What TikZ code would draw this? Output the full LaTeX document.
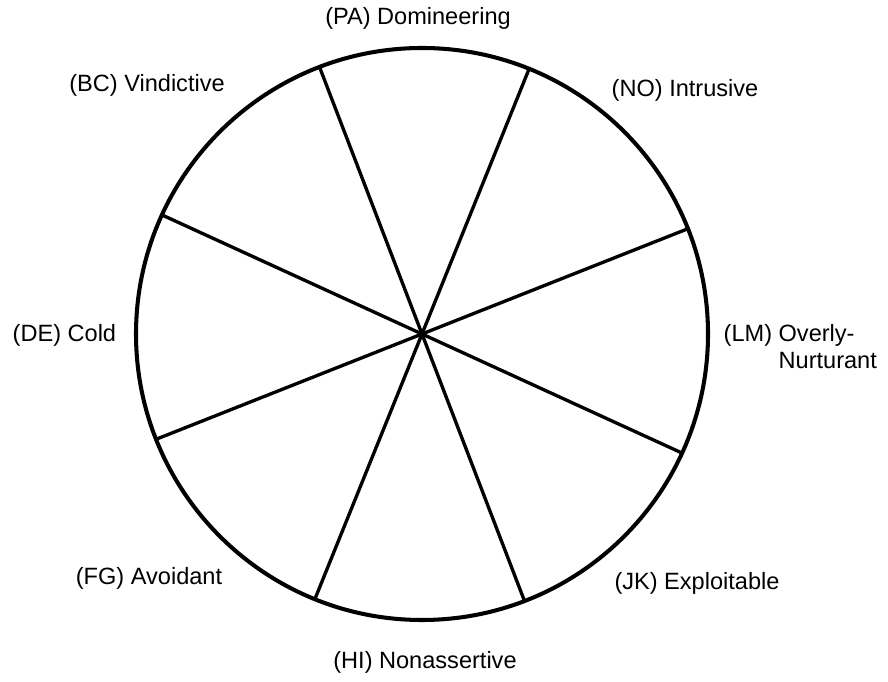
\documentclass[tikz,border=0pt]{standalone}
\usepackage{fontspec}
\setmainfont{Liberation Sans}
\usetikzlibrary{positioning}

\begin{document}
\begin{tikzpicture}[x=0.01cm, y=0.01cm, every node/.style={font=\fontsize{6.7}{7.6}\selectfont, inner sep=0pt}]
        \useasboundingbox (0,0) rectangle (888,682);

        % Circle
        \coordinate (c) at (422,348);
        \draw[line width=1.15pt] (c) circle (286);

        % Spokes
        \foreach \a in {21.6, 68, 111, 155.4}
            \draw[line width=0.95pt] (c) ++(\a:286) -- ++(\a+180:572);

        % Labels
        \node (pa) at (418,664) {(PA) Domineering};
        \node (no) at (685,592) {(NO) Intrusive};
        \node (bc) at (147,597) {(BC) Vindictive};
        \node[anchor=west] (de) at (12,347) {(DE) Cold};
        \node[align=left, anchor=west] (lm) at (723,333) {(LM) Overly-\\\phantom{(LM) }Nurturant};
        \node (fg) at (149,104) {(FG) Avoidant};
        \node (jk) at (697,99) {(JK) Exploitable};
        \node (hi) at (425,20) {(HI) Nonassertive};
    \end{tikzpicture}
\end{document}
